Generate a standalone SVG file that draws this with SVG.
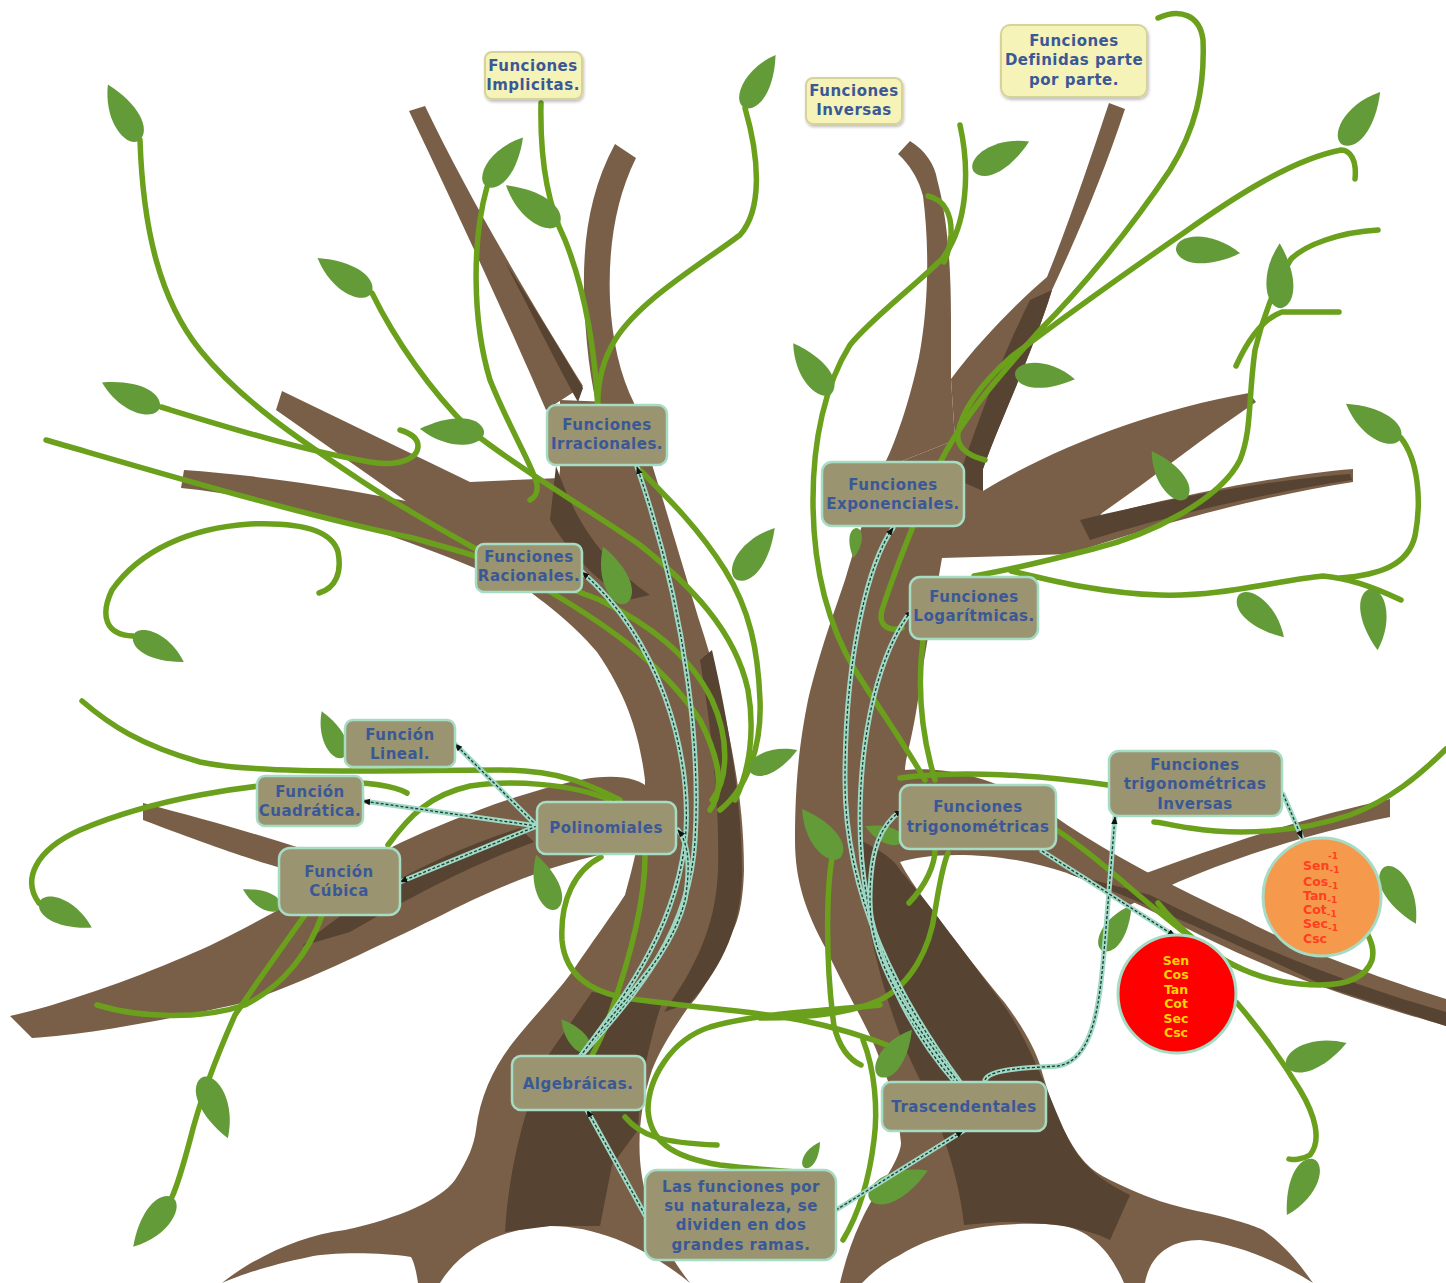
<svg xmlns="http://www.w3.org/2000/svg" xmlns:xlink="http://www.w3.org/1999/xlink" width="1446" height="1283" viewBox="0 0 1446 1283">
<defs>
<style>
.bark{fill:#7a5f48}
.dark{fill:#574331}
.vine{fill:none;stroke:#6aa01c;stroke-width:5.5;stroke-linecap:round}
.leaf{fill:#629b37}
.co{fill:none;stroke:#9fd9c4;stroke-width:5;stroke-linecap:round}
.ci{fill:none;stroke:#1d3a33;stroke-width:1.3;stroke-dasharray:3 2}
.box{fill:#9a9470;stroke:#a6dcc4;stroke-width:2.5}
.note{fill:#f5f3b8;stroke:#d6d29a;stroke-width:2}
.t{font-family:"DejaVu Sans",Verdana,sans-serif;font-weight:bold;font-size:15px;fill:#3b5896;text-anchor:middle;letter-spacing:0.5px}
.ct{font-family:"DejaVu Sans",Verdana,sans-serif;font-weight:bold;font-size:12.5px}
</style>
<path id="leaf" d="M0,0 C-2,-14 30,-22 60,0 C30,16 4,14 0,0Z"/>
<marker id="arr" viewBox="0 0 10 10" refX="9" refY="5" markerWidth="8" markerHeight="8" markerUnits="userSpaceOnUse" orient="auto"><path d="M0,1 L10,5 L0,9Z" fill="#111"/></marker>
<filter id="sh" x="-10%" y="-10%" width="120%" height="130%"><feDropShadow dx="1" dy="2" stdDeviation="1.5" flood-color="#000" flood-opacity="0.25"/></filter>
</defs>
<rect width="1446" height="1283" fill="#fff"/>

<g id="tree-left">
<path class="bark" d="M546,410 C520,350 480,260 409,111 L425,106 C470,200 530,300 583,386 Z"/>
<path class="bark" d="M600,420 C590,380 585,340 584,290 C583,240 590,190 615,144 L636,158 C615,200 608,250 610,300 C612,340 620,375 634,403 Z"/>
<path class="bark" d="M282,391 L470,482 L560,478 L553,540 L430,518 L276,410 Z"/>
<path class="bark" d="M184,470 C300,478 450,505 560,540 L528,592 C430,545 300,500 181,488 Z"/>
<path class="bark" d="M143,803 C200,818 250,832 300,848 L340,880 C300,875 270,868 143,820 Z"/>
<path class="bark" d="M650,790 C640,776 610,774 580,780 C520,792 450,820 400,843 C330,878 250,930 184,957 C130,980 60,1005 10,1016 L32,1038 C90,1035 190,1015 242,1003 C300,985 380,945 436,918 C490,890 560,860 625,850 Z"/>
<path class="bark" d="M560,400 L634,403 C645,440 652,465 660,490 C675,540 690,590 700,623 C712,660 720,690 728,730 C738,780 744,820 744,870 C743,905 738,925 727,941 C715,965 705,990 690,1005 C672,1030 660,1050 652,1070 C642,1100 638,1130 640,1160 C643,1200 660,1245 690,1283 C650,1250 600,1226 550,1226 C500,1228 460,1250 440,1283 L418,1283 C416,1270 414,1262 411,1257 C380,1252 330,1252 309,1257 C270,1265 240,1275 222,1283 C250,1260 300,1235 345,1230 C400,1218 440,1200 455,1180 C468,1160 474,1145 476,1130 C480,1095 495,1065 515,1040 C535,1015 555,995 572,972 C590,945 612,915 625,895 C638,850 645,810 645,780 C640,740 630,700 597,652 C570,620 540,600 528,590 L540,545 L553,520 L560,470 Z"/>
<path class="dark" d="M505,262 C530,300 560,350 583,388 L578,402 C560,370 535,320 505,262 Z"/>
<path class="dark" d="M556,466 C575,520 600,560 650,595 L628,600 C592,578 566,548 550,520 Z"/>
<path class="dark" d="M712,650 C728,720 742,800 742,875 C741,935 715,975 690,1003 L664,1012 C692,972 716,930 718,870 C720,800 710,720 700,660 Z"/>
<path class="dark" d="M520,828 L534,842 C470,866 420,892 350,932 L302,946 C350,905 420,860 520,828 Z"/>
<path class="dark" d="M592,992 L662,1002 C650,1040 640,1080 638,1130 L612,1165 L600,1226 L550,1226 L505,1232 C508,1180 520,1120 545,1060 Z"/>
</g>

<g id="tree-right">
<path class="bark" d="M882,469 C895,445 910,400 919,357 C928,310 930,250 923,196 C918,175 905,160 898,154 L910,141 C925,150 935,165 937,179 C948,220 951,268 951,320 L951,379 L955,440 Z"/>
<path class="bark" d="M951,379 C980,340 1020,300 1047,277 C1070,220 1090,160 1109,103 L1125,109 C1105,170 1080,230 1052,290 C1030,360 1000,420 983,469 L955,440 Z"/>
<path class="bark" d="M983,491 C1050,450 1150,410 1249,393 L1256,402 C1200,440 1150,480 1102,513 L1000,540 Z"/>
<path class="bark" d="M1093,518 C1180,495 1280,475 1353,469 L1353,482 C1270,495 1170,520 1070,554 Z"/>
<path class="bark" d="M1100,890 C1180,860 1290,820 1390,799 L1390,817 C1300,835 1200,868 1130,905 Z"/>
<path class="bark" d="M882,469 L955,440 L983,469 L983,491 L1102,513 L1070,554 L942,558 C935,600 925,650 918,700 C912,740 905,760 905,770 C940,766 1000,775 1057,818 C1110,855 1180,890 1241,918 C1300,950 1400,985 1446,999 L1446,1026 C1400,1012 1300,985 1200,935 C1150,910 1100,885 1067,873 C1000,850 930,852 900,862 C915,890 930,905 944,926 C970,960 990,985 1005,1003 C1025,1030 1035,1050 1040,1065 C1050,1100 1058,1120 1066,1134 C1080,1160 1090,1170 1110,1180 C1150,1200 1175,1206 1197,1211 C1230,1218 1250,1224 1263,1230 C1285,1245 1300,1265 1313,1283 C1280,1262 1240,1245 1200,1240 C1170,1240 1150,1255 1145,1283 L1124,1283 C1110,1250 1090,1230 1060,1225 C1000,1220 940,1230 900,1255 C880,1265 870,1275 862,1283 L840,1283 C850,1240 865,1210 880,1187 C895,1165 901,1150 901,1143 C898,1110 892,1090 880,1060 C870,1030 850,1000 826,949 C805,910 795,880 795,840 C795,780 800,740 808,700 C820,650 835,610 845,580 C860,530 870,500 882,469 Z"/>
<path class="dark" d="M1052,290 C1030,360 1000,420 983,469 L983,491 L958,480 C975,430 1000,360 1030,300 Z"/>
<path class="dark" d="M1080,520 C1170,498 1270,480 1350,474 L1352,480 C1270,492 1170,515 1090,540 Z"/>
<path class="dark" d="M860,840 C880,850 895,860 900,870 C930,905 970,960 1000,1000 C1030,1040 1050,1100 1066,1134 C1080,1165 1100,1180 1130,1195 L1110,1240 C1080,1225 1040,1222 1000,1222 L964,1225 C960,1180 940,1120 920,1080 C895,1030 880,980 870,930 C865,890 860,860 860,840 Z"/>
<path class="dark" d="M1067,873 C1150,905 1250,950 1329,988 L1446,1026 L1446,1012 C1350,985 1250,945 1150,895 Z"/>
</g>

<g id="vines">
<path class="vine" d="M140,140 C143,230 160,300 200,350 C240,400 300,440 360,480 C420,520 480,550 530,580 C600,620 660,660 700,720 C720,760 725,790 710,810"/>
<path class="vine" d="M161,407 C220,425 300,450 370,462 C400,467 418,458 418,446 C418,438 410,433 400,430"/>
<path class="vine" d="M46,440 C150,470 300,515 413,538 C480,556 550,580 600,600 C650,625 690,655 712,700 C730,740 728,780 712,800"/>
<path class="vine" d="M319,593 C336,588 342,572 338,552 C332,530 300,522 250,524 C190,528 140,550 112,590 C100,615 105,635 133,636"/>
<path class="vine" d="M372,293 C395,340 430,390 470,430 C520,470 590,510 640,545 C690,585 735,630 748,690 C755,730 750,770 735,800"/>
<path class="vine" d="M541,103 C540,150 545,200 565,240 C585,290 595,350 598,410"/>
<path class="vine" d="M487,187 C472,240 472,320 490,380 C510,430 535,470 537,485 C538,493 534,498 530,500"/>
<path class="vine" d="M745,108 C760,160 762,210 740,235 C700,265 640,300 615,340 C600,365 597,390 598,410"/>
<path class="vine" d="M640,470 C670,500 700,530 725,570 C750,610 758,650 760,700 C762,750 745,790 720,810"/>
<path class="vine" d="M82,701 C110,725 140,745 200,762 C260,775 400,770 500,770 C560,770 590,785 620,800"/>
<path class="vine" d="M39,903 C22,880 35,850 80,830 C150,800 250,782 330,782 C370,782 395,786 407,793"/>
<path class="vine" d="M610,800 C570,783 510,780 470,786 C430,795 410,815 388,845"/>
<path class="vine" d="M305,915 C280,950 255,985 235,1015 C215,1060 200,1100 190,1140 C182,1170 176,1188 172,1197"/>
<path class="vine" d="M322,915 C310,950 285,985 245,1005 C200,1020 140,1018 97,1005"/>
<path class="vine" d="M601,857 C575,870 560,900 562,940 C565,975 590,995 640,1000 C700,1008 760,1012 800,1020 C840,1028 870,1038 900,1050"/>
<path class="vine" d="M880,1005 C840,1010 760,1012 710,1027 C670,1040 648,1080 648,1110 C650,1140 670,1157 720,1165 C760,1170 800,1172 830,1175"/>
<path class="vine" d="M625,1117 C640,1135 660,1143 717,1145"/>
<path class="vine" d="M863,1040 C875,1070 878,1110 874,1140 C868,1190 855,1220 843,1240"/>
<path class="vine" d="M645,857 C645,900 630,960 606,1026 C600,1040 595,1050 591,1057"/>
<path class="vine" d="M960,125 C970,170 968,225 942,259 C910,290 870,320 850,345 C825,385 813,440 813,500 C813,560 825,620 855,670 C880,710 905,745 925,780"/>
<path class="vine" d="M928,196 C945,200 952,215 951,235 C950,248 947,256 944,262"/>
<path class="vine" d="M1158,18 C1180,8 1200,15 1203,40 C1205,90 1195,130 1170,170 C1130,230 1080,290 1040,330 C1000,375 960,420 937,469 C915,520 895,570 882,610 C878,625 888,632 902,628"/>
<path class="vine" d="M1355,179 C1357,160 1350,150 1341,150 C1290,160 1230,200 1185,232 C1130,270 1060,320 1011,357 C980,385 962,410 958,433 C956,445 965,455 985,460"/>
<path class="vine" d="M1378,230 C1340,232 1305,245 1291,259 C1275,285 1262,320 1255,350 C1248,400 1252,430 1240,460 C1220,500 1150,535 1093,549 C1050,560 1010,570 974,576"/>
<path class="vine" d="M1339,312 L1282,312 C1265,318 1250,335 1236,366"/>
<path class="vine" d="M1011,571 C1050,580 1100,593 1160,595 C1220,597 1280,580 1323,576 C1350,578 1380,590 1401,600"/>
<path class="vine" d="M1401,438 C1418,460 1422,500 1415,536 C1408,565 1380,575 1340,578"/>
<path class="vine" d="M1446,749 C1420,775 1390,800 1350,815 C1300,832 1240,836 1190,828 C1170,825 1160,822 1154,822"/>
<path class="vine" d="M1050,826 C1090,850 1130,890 1175,925 C1210,955 1250,980 1300,984 C1340,988 1365,980 1372,960 C1375,948 1370,940 1368,935"/>
<path class="vine" d="M1158,903 C1180,930 1210,955 1240,968"/>
<path class="vine" d="M1237,1003 C1260,1030 1285,1065 1300,1090 C1315,1115 1322,1140 1310,1155 C1302,1160 1292,1160 1289,1159"/>
<path class="vine" d="M760,1018 C800,1018 847,1015 880,1000 C910,985 930,950 935,911 C940,880 945,860 948,853"/>
<path class="vine" d="M834,849 C826,880 825,960 834,1026 C840,1050 850,1060 861,1065"/>
<path class="vine" d="M935,849 C935,865 926,885 909,903"/>
<path class="vine" d="M900,778 C960,770 1040,775 1108,785"/>
<path class="vine" d="M923,640 C918,680 920,730 935,780"/>
</g>

<g id="leaves" class="leaf">
<use href="#leaf" transform="translate(140,140) rotate(-120) scale(1.07)"/>
<use href="#leaf" transform="translate(160,407) rotate(-157) scale(1.05)"/>
<use href="#leaf" transform="translate(372,292) rotate(-148) scale(1.07)"/>
<use href="#leaf" transform="translate(484,431) rotate(182) scale(1.07)"/>
<use href="#leaf" transform="translate(487,187) rotate(-54) scale(1.02)"/>
<use href="#leaf" transform="translate(560,223) rotate(-145) scale(1.1)"/>
<use href="#leaf" transform="translate(745,108) rotate(-60) scale(1.02)"/>
<use href="#leaf" transform="translate(133,636) rotate(27) scale(0.95)"/>
<use href="#leaf" transform="translate(627,603) rotate(-113) scale(1.02)"/>
<use href="#leaf" transform="translate(737,580) rotate(-54) scale(1.07)"/>
<use href="#leaf" transform="translate(344,757) rotate(-116) scale(0.85)"/>
<use href="#leaf" transform="translate(281,907) rotate(-155) scale(0.7)"/>
<use href="#leaf" transform="translate(39,903) rotate(25) scale(0.97)"/>
<use href="#leaf" transform="translate(201,1078) rotate(66) scale(1.1)"/>
<use href="#leaf" transform="translate(172,1197) rotate(128) scale(1.05)"/>
<use href="#leaf" transform="translate(557,909) rotate(-111) scale(0.97)"/>
<use href="#leaf" transform="translate(589,1051) rotate(-131) scale(0.7)"/>
<use href="#leaf" transform="translate(805,1168) rotate(-60) scale(0.5)"/>
<use href="#leaf" transform="translate(880,1077) rotate(-56) scale(0.95)"/>
<use href="#leaf" transform="translate(870,1200) rotate(-27) scale(1.08)"/>
<use href="#leaf" transform="translate(832,393) rotate(-128) scale(1.05)"/>
<use href="#leaf" transform="translate(974,172) rotate(-29) scale(1.05)"/>
<use href="#leaf" transform="translate(856,528) rotate(95) scale(0.5)"/>
<use href="#leaf" transform="translate(1176,250) rotate(3) scale(1.07)"/>
<use href="#leaf" transform="translate(1015,375) rotate(4) scale(1)"/>
<use href="#leaf" transform="translate(1343,145) rotate(-55) scale(1.08)"/>
<use href="#leaf" transform="translate(1282,308) rotate(-92) scale(1.08)"/>
<use href="#leaf" transform="translate(1401,438) rotate(-148) scale(1.08)"/>
<use href="#leaf" transform="translate(1187,498) rotate(-127) scale(0.98)"/>
<use href="#leaf" transform="translate(1238,596) rotate(42) scale(1.03)"/>
<use href="#leaf" transform="translate(1369,589) rotate(82) scale(1.03)"/>
<use href="#leaf" transform="translate(750,772) rotate(-25) scale(0.87)"/>
<use href="#leaf" transform="translate(841,857) rotate(-129) scale(1.03)"/>
<use href="#leaf" transform="translate(1103,951) rotate(-58) scale(0.9)"/>
<use href="#leaf" transform="translate(1383,868) rotate(59.5) scale(1.08)"/>
<use href="#leaf" transform="translate(1287,1067) rotate(-22) scale(1.07)"/>
<use href="#leaf" transform="translate(1313,1159) rotate(115) scale(1.03)"/>
<use href="#leaf" transform="translate(903,840) rotate(-160) scale(0.67)"/>
</g>

<g id="connectors">
<path class="co" d="M580,1057 C640,990 690,930 695,840 C700,760 690,620 637,467"/>
<path class="ci" d="M580,1057 C640,990 690,930 695,840 C700,760 690,620 637,467" marker-end="url(#arr)"/>
<path class="co" d="M580,1057 C630,990 680,920 686,830 C690,750 660,640 582,572"/>
<path class="ci" d="M580,1057 C630,990 680,920 686,830 C690,750 660,640 582,572" marker-end="url(#arr)"/>
<path class="co" d="M580,1057 C620,1000 670,960 685,900 C690,870 690,845 678,830"/>
<path class="ci" d="M580,1057 C620,1000 670,960 685,900 C690,870 690,845 678,830" marker-end="url(#arr)"/>
<path class="co" d="M537,826 L455,744"/>
<path class="ci" d="M537,826 L455,744" marker-end="url(#arr)"/>
<path class="co" d="M537,826 L363,801"/>
<path class="ci" d="M537,826 L363,801" marker-end="url(#arr)"/>
<path class="co" d="M537,826 L400,882"/>
<path class="ci" d="M537,826 L400,882" marker-end="url(#arr)"/>
<path class="co" d="M645,1215 L587,1110"/>
<path class="ci" d="M645,1215 L587,1110" marker-end="url(#arr)"/>
<path class="co" d="M836,1210 L963,1131"/>
<path class="ci" d="M836,1210 L963,1131" marker-end="url(#arr)"/>
<path class="co" d="M960,1082 C900,1000 845,900 845,780 C845,650 870,560 893,528"/>
<path class="ci" d="M960,1082 C900,1000 845,900 845,780 C845,650 870,560 893,528" marker-end="url(#arr)"/>
<path class="co" d="M955,1082 C900,1020 860,930 860,820 C860,730 880,650 912,610"/>
<path class="ci" d="M955,1082 C900,1020 860,930 860,820 C860,730 880,650 912,610" marker-end="url(#arr)"/>
<path class="co" d="M958,1082 C920,1030 870,970 870,900 C870,850 880,825 902,810"/>
<path class="ci" d="M958,1082 C920,1030 870,970 870,900 C870,850 880,825 902,810" marker-end="url(#arr)"/>
<path class="co" d="M985,1080 C990,1068 1030,1068 1058,1066 C1095,1060 1100,1000 1105,940 C1110,880 1113,840 1115,817"/>
<path class="ci" d="M985,1080 C990,1068 1030,1068 1058,1066 C1095,1060 1100,1000 1105,940 C1110,880 1113,840 1115,817" marker-end="url(#arr)"/>
<path class="co" d="M1042,851 L1175,936"/>
<path class="ci" d="M1042,851 L1175,936" marker-end="url(#arr)"/>
<path class="co" d="M1283,794 L1302,838"/>
<path class="ci" d="M1283,794 L1302,838" marker-end="url(#arr)"/>
</g>

<g id="n-implicitas"><rect class="note" x="485" y="52" width="97" height="47" rx="7" filter="url(#sh)"/><text class="t"><tspan x="533" y="71">Funciones</tspan><tspan x="533" y="90">Implicitas.</tspan></text></g>
<g id="n-inversas"><rect class="note" x="806" y="78" width="96" height="46" rx="7" filter="url(#sh)"/><text class="t"><tspan x="854" y="96">Funciones</tspan><tspan x="854" y="115">Inversas</tspan></text></g>
<g id="n-definidas"><rect class="note" x="1001" y="25" width="146" height="72" rx="9" filter="url(#sh)"/><text class="t"><tspan x="1074" y="46">Funciones</tspan><tspan x="1074" y="65">Definidas parte</tspan><tspan x="1074" y="85">por parte.</tspan></text></g>

<g id="n-irracionales"><rect class="box" x="547" y="405" width="120" height="60" rx="9"/><text class="t"><tspan x="607" y="430">Funciones</tspan><tspan x="607" y="449">Irracionales.</tspan></text></g>
<g id="n-racionales"><rect class="box" x="476" y="544" width="106" height="48" rx="8"/><text class="t"><tspan x="529" y="562">Funciones</tspan><tspan x="529" y="581">Racionales.</tspan></text></g>
<g id="n-exponenciales"><rect class="box" x="822" y="462" width="142" height="64" rx="10"/><text class="t"><tspan x="893" y="490">Funciones</tspan><tspan x="893" y="509">Exponenciales.</tspan></text></g>
<g id="n-logaritmicas"><rect class="box" x="910" y="577" width="128" height="62" rx="10"/><text class="t"><tspan x="974" y="602">Funciones</tspan><tspan x="974" y="621">Logarítmicas.</tspan></text></g>
<g id="n-lineal"><rect class="box" x="345" y="720" width="110" height="47" rx="8"/><text class="t"><tspan x="400" y="740">Función</tspan><tspan x="400" y="759">Lineal.</tspan></text></g>
<g id="n-cuadratica"><rect class="box" x="257" y="776" width="106" height="50" rx="8"/><text class="t"><tspan x="310" y="797">Función</tspan><tspan x="310" y="816">Cuadrática.</tspan></text></g>
<g id="n-cubica"><rect class="box" x="279" y="848" width="121" height="67" rx="11"/><text class="t"><tspan x="339" y="877">Función</tspan><tspan x="339" y="896">Cúbica</tspan></text></g>
<g id="n-polinomiales"><rect class="box" x="537" y="802" width="139" height="52" rx="9"/><text class="t" x="606" y="833">Polinomiales</text></g>
<g id="n-trig"><rect class="box" x="900" y="785" width="156" height="64" rx="10"/><text class="t"><tspan x="978" y="812">Funciones</tspan><tspan x="978" y="832">trigonométricas</tspan></text></g>
<g id="n-trig-inv"><rect class="box" x="1109" y="751" width="173" height="65" rx="10"/><text class="t"><tspan x="1195" y="770">Funciones</tspan><tspan x="1195" y="789">trigonométricas</tspan><tspan x="1195" y="809">Inversas</tspan></text></g>
<g id="n-algebraicas"><rect class="box" x="512" y="1056" width="133" height="54" rx="9"/><text class="t" x="578" y="1089">Algebráicas.</text></g>
<g id="n-trascendentales"><rect class="box" x="882" y="1082" width="164" height="49" rx="9"/><text class="t" x="964" y="1112">Trascendentales</text></g>
<g id="n-raiz"><rect class="box" x="645" y="1170" width="191" height="90" rx="12"/><text class="t"><tspan x="741" y="1192">Las funciones por</tspan><tspan x="741" y="1211">su naturaleza, se</tspan><tspan x="741" y="1230">dividen en dos</tspan><tspan x="741" y="1250">grandes ramas.</tspan></text></g>

<g id="n-circulo-rojo">
<circle cx="1177" cy="994" r="59" fill="#ff0000" stroke="#a6dcc4" stroke-width="3"/>
<text class="ct" fill="#ffd400" text-anchor="middle"><tspan x="1176" y="965">Sen</tspan><tspan x="1176" y="979">Cos</tspan><tspan x="1176" y="994">Tan</tspan><tspan x="1176" y="1008">Cot</tspan><tspan x="1176" y="1023">Sec</tspan><tspan x="1176" y="1037">Csc</tspan></text>
</g>
<g id="n-circulo-naranja">
<circle cx="1322" cy="897" r="59" fill="#f59a4c" stroke="#a6dcc4" stroke-width="3"/>
<text class="ct" fill="#ff4020"><tspan x="1328" y="859" font-size="9">-1</tspan><tspan x="1303" y="870">Sen</tspan><tspan font-size="9" dy="3">-1</tspan><tspan x="1303" y="886">Cos</tspan><tspan font-size="9" dy="3">-1</tspan><tspan x="1303" y="900">Tan</tspan><tspan font-size="9" dy="3">-1</tspan><tspan x="1303" y="914">Cot</tspan><tspan font-size="9" dy="3">-1</tspan><tspan x="1303" y="928">Sec</tspan><tspan font-size="9" dy="3">-1</tspan><tspan x="1303" y="943">Csc</tspan></text>
</g>
</svg>
